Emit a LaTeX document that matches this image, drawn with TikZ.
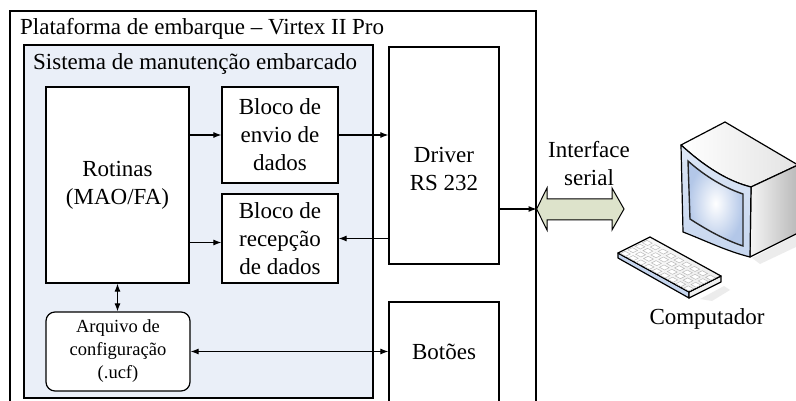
\documentclass[tikz,border=0pt]{standalone}
\usepackage{fontspec}
\setmainfont{Liberation Serif}
\usetikzlibrary{arrows.meta,calc}
\definecolor{sysfill}{HTML}{EAEFF8}
\definecolor{linkfill}{HTML}{DDE3CB}
\definecolor{bezel}{HTML}{C6D6EF}
\definecolor{screenblue}{HTML}{B3C7E8}
\tikzset{
  blk/.style={draw, line width=1.2pt, fill=white, inner sep=0pt, align=center,
              font=\fontsize{23}{28}\selectfont},
  lbl/.style={font=\fontsize{23}{28}\selectfont, inner sep=0pt, align=center},
  arr/.style={line width=1.1pt, -{Latex[length=8pt,width=6pt]}},
  biarr/.style={line width=1.1pt, {Latex[length=8pt,width=6pt]}-{Latex[length=8pt,width=6pt]}},
  outl/.style={line width=1.2pt, line join=round},
}
\begin{document}
\begin{tikzpicture}[x=1pt,y=-1pt]
\clip (0,0) rectangle (796,401);
\fill[white] (0,0) rectangle (796,401);

% platform and embedded system frames
\node[draw, line width=1.2pt, inner sep=0pt, minimum width=526pt, minimum height=409pt] (plat) at (273,215.5) {};
\node[draw, line width=1.2pt, fill=sysfill, inner sep=0pt, minimum width=349pt, minimum height=353pt] (sys) at (198.5,221.5) {};
\node[lbl, anchor=base west] (plattitle) at (20,35) {Plataforma de embarque -- Virtex II Pro};
\node[lbl, anchor=base west] (systitle) at (33,70) {Sistema de manutenção embarcado};

% functional blocks
\node[blk, minimum width=143pt, minimum height=196pt] (rot) at (117.5,185) {Rotinas\\(MAO/FA)};
\node[blk, minimum width=116pt, minimum height=96pt] (envio) at (280,135) {Bloco de\\envio de\\dados};
\node[blk, minimum width=116pt, minimum height=89pt] (recep) at (280,238.5) {Bloco de\\recepção\\de dados};
\node[blk, minimum width=144pt, minimum height=79pt, rounded corners=9pt,
      font=\fontsize{18.5}{23}\selectfont] (arq) at (118,351.5) {Arquivo de\\configuração\\(.ucf)};
\node[blk, minimum width=110pt, minimum height=217pt] (drv) at (444,155.5) {};
\node[lbl] (drvtxt) at (444,169) {Driver\\RS 232};
\node[blk, minimum width=110pt, minimum height=118pt] (bot) at (444,361) {};
\node[lbl, anchor=base] (bottxt) at (444,359) {Botões};

% connectors
\coordinate (rin) at ([yshift=-4pt]recep.west);
\coordinate (pout) at (plat.east |- 0,209);
\draw[arr] (rot.east |- envio.west) -- (envio.west);
\draw[arr] (rot.east |- rin) -- (rin);
\draw[arr] (envio.east) -- (envio.east -| drv.west);
\draw[arr] (drv.west |- recep.east) -- (recep.east);
\draw[arr] (drv.east |- pout) -- (pout);
\draw[biarr] (rot.south) -- (rot.south |- arq.north);
\draw[biarr] (arq.east) -- (arq.east -| bot.west);

% serial link
\draw[line width=1pt, fill=linkfill, line join=miter]
  (pout) -- (547,188) -- (547,199) -- (612,199) -- (612,188) -- (624,209)
  -- (612,230) -- (612,220) -- (547,220) -- (547,230) -- cycle;
\node[lbl] (iftxt) at (589,164) {Interface\\serial};

% computer: monitor
\fill[gray!18, opacity=0.8] (752,258) -- (798,234) -- (798,246) -- (760,264) -- cycle;
\shade[outl, draw=black, left color=white, right color=gray!22]
  (681,145) -- (725,122) -- (798,165) -- (751,187)
  .. controls (727,181) and (704,166) .. cycle;
\shade[outl, draw=black, left color=gray!8, right color=gray!55]
  (751,187) -- (798,165) -- (798,233) -- (750,257) -- cycle;
\shade[outl, draw=black, top color=bezel!60, bottom color=bezel]
  (681,145) .. controls (704,166) and (727,181) .. (751,187)
  -- (750,257) .. controls (726,251) and (704,240) .. (683,232) -- cycle;
\shade[line width=1.4pt, draw=black!85, inner color=white, outer color=screenblue]
  (688,161) .. controls (706,177) and (725,188) .. (743,194)
  -- (743,246) .. controls (725,240) and (707,230) .. (690,219) -- cycle;

% computer: keyboard
\fill[gray!20, opacity=0.7] (700,299) -- (724,286) -- (730,290) -- (712,301) -- cycle;
\fill[outl, draw=black, fill=bezel] (618,253) -- (689,292) -- (689,298) -- (618,258) -- cycle;
\fill[outl, draw=black, fill=gray!12] (689,292) -- (721,276) -- (721,282) -- (689,298) -- cycle;
\shade[outl, draw=black, left color=white, right color=gray!15]
  (618,253) -- (650,237) -- (721,276) -- (689,292) -- cycle;
\foreach \i in {0,...,8}{
  \foreach \j in {0,...,3}{
    \pgfmathsetmacro{\kx}{620.5+\i*7.9+\j*7.3}
    \pgfmathsetmacro{\ky}{253.5+\i*4.33-\j*3.6}
    \draw[gray!55, line width=0.5pt, fill=white]
      (\kx,\ky) -- ++(5.2,2.8) -- ++(4.6,-2.3) -- ++(-5.2,-2.8) -- cycle;
  }
}
\node[lbl, anchor=base] (comptxt) at (707,324) {Computador};
\end{tikzpicture}
\end{document}
